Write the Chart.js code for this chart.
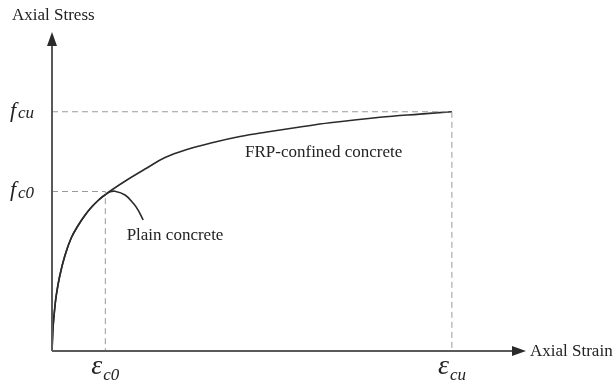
<!DOCTYPE html>
<html>
<head>
<meta charset="utf-8">
<script src="https://cdn.jsdelivr.net/npm/chart.js@4/dist/chart.umd.min.js"></script>
<style>
  html, body { margin: 0; padding: 0; background: #fff; }
  #wrap { width: 614px; height: 385px; position: relative; }
</style>
</head>
<body>
<div id="wrap"><canvas id="c"></canvas></div>
<script>
// Axial strain / axial stress (schematic values)
const confinedStrain = [0, 0.00004, 0.0001, 0.00016, 0.00029, 0.00048, 0.00072, 0.00098, 0.00123, 0.00147, 0.00173, 0.00198, 0.00221, 0.00281, 0.00356, 0.00424, 0.00506, 0.00604, 0.00705, 0.00806, 0.0093, 0.01043, 0.0123, 0.0138, 0.015];
const confinedStress = [0, 4.51, 7.9, 10.44, 14.11, 17.87, 21.25, 23.61, 25.49, 26.99, 28.31, 29.34, 30.19, 32.16, 34.42, 36.39, 37.9, 39.22, 40.34, 41.19, 42.13, 42.92, 43.96, 44.56, 45];
const plainStrain = [0, 0.00004, 0.0001, 0.00016, 0.00029, 0.00048, 0.00072, 0.00098, 0.00123, 0.00147, 0.00173, 0.00198, 0.00218, 0.00236, 0.00274, 0.00305, 0.00323, 0.00342];
const plainStress = [0, 4.51, 7.9, 10.44, 14.11, 17.87, 21.25, 23.61, 25.49, 26.99, 28.31, 29.34, 29.95, 30.05, 29.34, 27.78, 26.5, 24.64];
const refStrain = { c0: 0.002, cu: 0.015 };
const refStress = { c0: 30, cu: 45 };
const axisMax = { strain: 0.01778, stress: 60 };
const seriesLabels = ['FRP-confined concrete', 'Plain concrete'];
const axisTitles = { x: 'Axial Strain', y: 'Axial Stress' };

const toPts = (xs, ys) => xs.map((x, i) => ({ x, y: ys[i] }));

const dashStyle = { borderColor: '#9a9a9a', borderWidth: 1, borderDash: [6, 4], pointRadius: 0, tension: 0, fill: false, clip: false };

const overlay = {
  id: 'overlay',
  afterDatasetsDraw(chart) {
    const ctx = chart.ctx;
    const xs = chart.scales.x, ys = chart.scales.y;
    const x0 = xs.getPixelForValue(0), y0 = ys.getPixelForValue(0);
    const xe = xs.getPixelForValue(axisMax.strain), ye = ys.getPixelForValue(axisMax.stress);
    ctx.save();
    // axes
    ctx.strokeStyle = '#5a5a5a';
    ctx.fillStyle = '#2a2a2a';
    ctx.lineWidth = 2;
    ctx.beginPath();
    ctx.moveTo(x0, y0); ctx.lineTo(x0, ye + 10);
    ctx.moveTo(x0, y0); ctx.lineTo(xe - 10, y0);
    ctx.stroke();
    // arrowheads
    ctx.beginPath();
    ctx.moveTo(x0, ye); ctx.lineTo(x0 - 5, ye + 14); ctx.lineTo(x0 + 5, ye + 14); ctx.closePath(); ctx.fill();
    ctx.beginPath();
    ctx.moveTo(xe, y0); ctx.lineTo(xe - 14, y0 - 5); ctx.lineTo(xe - 14, y0 + 5); ctx.closePath(); ctx.fill();

    ctx.fillStyle = '#222';
    ctx.textBaseline = 'middle';
    ctx.textAlign = 'left';
    ctx.font = '17px "Liberation Serif", "DejaVu Serif", serif';
    ctx.fillText(axisTitles.y, 12, 16);
    ctx.fillText(axisTitles.x, xe + 4, y0 + 1);
    ctx.fillText(seriesLabels[1], xs.getPixelForValue(0.0028), ys.getPixelForValue(21.7));
    ctx.fillText(seriesLabels[0], xs.getPixelForValue(0.00724), ys.getPixelForValue(37.4));

    // f labels
    const drawF = (sub, val) => {
      const py = ys.getPixelForValue(val);
      ctx.font = 'italic 22px "Liberation Serif", "DejaVu Serif", serif';
      ctx.fillText('f', 10, py - 1);
      ctx.font = 'italic 17px "Liberation Serif", "DejaVu Serif", serif';
      ctx.fillText(sub, 18, py + 2);
    };
    drawF('cu', refStress.cu);
    drawF('c0', refStress.c0);

    // epsilon labels
    const drawE = (sub, val) => {
      const px = xs.getPixelForValue(val);
      ctx.font = 'italic 28px "Liberation Serif", "DejaVu Serif", serif';
      ctx.fillText('\u03b5', px - 14, y0 + 16);
      ctx.font = 'italic 17px "Liberation Serif", "DejaVu Serif", serif';
      ctx.fillText(sub, px - 2, y0 + 25);
    };
    drawE('c0', refStrain.c0);
    drawE('cu', refStrain.cu);
    ctx.restore();
  }
};

new Chart(document.getElementById('c'), {
  type: 'line',
  data: {
    datasets: [
      Object.assign({ data: [{ x: 0, y: refStress.cu }, { x: refStrain.cu, y: refStress.cu }, { x: refStrain.cu, y: 0 }] }, dashStyle),
      Object.assign({ data: [{ x: 0, y: refStress.c0 }, { x: refStrain.c0, y: refStress.c0 }, { x: refStrain.c0, y: 0 }] }, dashStyle),
      { label: seriesLabels[0], data: toPts(confinedStrain, confinedStress), borderColor: '#2b2b2b', borderWidth: 1.6, pointRadius: 0, tension: 0.4, fill: false, clip: false },
      { label: seriesLabels[1], data: toPts(plainStrain, plainStress), borderColor: '#2b2b2b', borderWidth: 1.6, pointRadius: 0, tension: 0.4, fill: false, clip: false }
    ]
  },
  options: {
    responsive: true,
    maintainAspectRatio: false,
    animation: false,
    layout: { padding: { left: 52, top: 32, right: 88, bottom: 34 } },
    plugins: { legend: { display: false }, tooltip: { enabled: false } },
    scales: {
      x: { type: 'linear', min: 0, max: axisMax.strain, display: false },
      y: { type: 'linear', min: 0, max: axisMax.stress, display: false }
    }
  },
  plugins: [overlay]
});
</script>
</body>
</html>
